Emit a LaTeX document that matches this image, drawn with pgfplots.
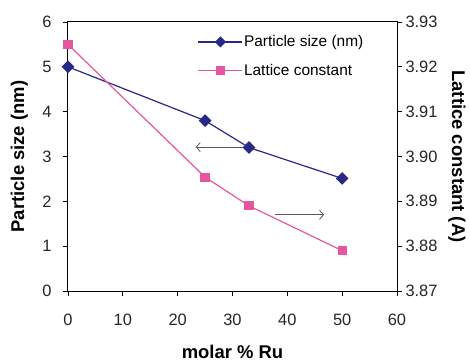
\documentclass[border=0pt]{standalone}
\usepackage{fontspec}
\setmainfont{Liberation Sans}
\usepackage{pgfplots}
\pgfplotsset{compat=1.18}
\usetikzlibrary{arrows.meta}
\definecolor{navy}{RGB}{40,40,135}
\definecolor{pinkc}{RGB}{230,85,160}
\definecolor{arrowgray}{RGB}{90,90,90}
\begin{document}
\begin{tikzpicture}
\useasboundingbox (-68bp,-73bp) rectangle (402bp,291bp);
\pgfplotsset{
  common/.style={
    scale only axis, width=329bp, height=269bp, at={(0,0)}, anchor=south west,
    xmin=0, xmax=60,
    tick align=outside, major tick length=5bp,
    /pgf/number format/assume math mode=true,
    ticklabel style={font=\fontsize{16.5}{18}\selectfont, text=black!85},
    label style={font=\bfseries\fontsize{18.5}{20}\selectfont},
    axis line style={line width=1bp},
    tick style={line width=0.8bp, black},
  }
}
\begin{axis}[common,
  ymin=0, ymax=6, ytick={0,1,2,3,4,5,6}, xtick={0,10,20,30,40,50,60},
  xtick pos=lower, ytick pos=left,
  xticklabel style={yshift=-15bp},
  yticklabel style={xshift=-8bp},
  xlabel={molar \% Ru}, ylabel={Particle size (nm)},
  xlabel style={at={(axis description cs:0.5,-0.228)}, anchor=center, inner sep=0pt},
  ylabel style={at={(axis description cs:-0.148,0.5)}, anchor=center},
]
\addplot[navy, line width=1.2bp, mark=square*, mark size=3.9bp, mark options={rotate=45}]
  coordinates {(0,5.0) (25,3.8) (33,3.2) (50,2.51)};
\draw[arrowgray, line width=0.8bp, -{Straight Barb[length=4bp,width=9bp]}] (axis cs:32.3,3.21) -- (axis cs:23.3,3.21);
\draw[arrowgray, line width=0.8bp, -{Straight Barb[length=4bp,width=9bp]}] (axis cs:37.8,1.70) -- (axis cs:46.7,1.70);
\end{axis}
\begin{axis}[common,
  axis y line*=right, axis x line=none,
  ymin=3.87, ymax=3.93, ytick={3.87,3.88,3.89,3.90,3.91,3.92,3.93},
  yticklabel style={/pgf/number format/.cd, fixed, fixed zerofill, precision=2},
  ylabel={Lattice constant (A)},
  ylabel style={at={(axis description cs:1.182,0.5)}, anchor=center, rotate=180},
  legend style={at={(rel axis cs:0.385,0.965)}, anchor=north west, draw=none, fill=none,
    font=\fontsize{15.5}{17}\selectfont, row sep=12bp, legend cell align=left,
    nodes={inner xsep=1bp}},
  legend image code/.code={\draw[mark repeat=2,mark phase=2] plot coordinates {(0bp,0bp) (22bp,0bp) (44bp,0bp)};},
]
\addlegendimage{navy, line width=1.2bp, mark=square*, mark size=3.3bp, mark options={rotate=45}}
\addlegendentry{Particle size (nm)}
\addplot[pinkc, line width=1.2bp, mark=square*, mark size=4bp]
  coordinates {(0,3.925) (25,3.8954) (33,3.889) (50,3.879)};
\addlegendentry{Lattice constant}
\end{axis}
\end{tikzpicture}
\end{document}
